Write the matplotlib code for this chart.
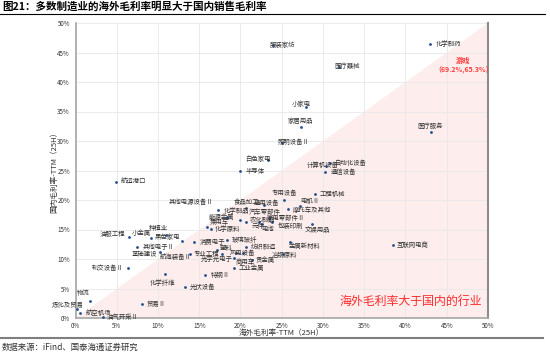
import numpy as np
import matplotlib
matplotlib.use('Agg')
import matplotlib.pyplot as plt
from matplotlib.lines import Line2D

plt.rcParams['font.family'] = ['Noto Sans CJK SC', 'DejaVu Sans']

# 数据：海外毛利率 / 国内毛利率 (%)
hangye = ['化学制药', '服装家纺', '医疗器械', '小家电', '家居用品', '照明设备Ⅱ', '医疗服务',
          '白色家电', '半导体', '计算机设备', '自动化设备', '通信设备', '航运港口', '专用设备',
          '工程机械', '电机Ⅱ', '摩托车及其他', '其他电源设备Ⅱ', '食品加工', '通用设备', '化学制品',
          '汽车零部件', '能源金属', '乘用车', '化学原料', '元件', '农化制品', '家电零部件Ⅱ', '电池',
          '包装印刷', '文娱用品', '油服工程', '小金属', '种植业', '黑色家电', '其他电子Ⅱ', '基础建设',
          '航海装备Ⅱ', '消费电子', '玻璃玻纤', '塑料', '专业工程', '风电设备', '光学光电子', '商用车',
          '贵金属', '工业金属', '纺织制造', '金属新材料', '冶钢原料', '特钢Ⅱ', '化学纤维', '光伏设备',
          '轨交设备Ⅱ', '贸易Ⅱ', '物流', '炼化及贸易', '航空机场', '油气开采Ⅱ', '互联网电商']
haiwai = [43.0, 23.9, 31.9, 27.9, 27.3, 25.0, 43.1,
          23.3, 20.0, 30.4, 30.9, 30.3, 4.9, 25.3,
          29.0, 27.2, 25.8, 17.3, 20.7, 22.9, 18.4,
          19.9, 16.0, 18.4, 16.4, 20.7, 22.3, 23.5, 22.6,
          23.8, 28.7, 6.5, 9.1, 11.0, 12.9, 7.5, 10.3,
          13.9, 14.4, 18.4, 17.1, 17.7, 19.5, 19.2, 20.3,
          21.4, 19.2, 20.7, 26.0, 25.1, 15.7, 10.9, 13.3,
          6.4, 8.0, 1.8, 0.2, 0.5, 3.3, 38.5]
guonei = [46.4, 46.2, 42.6, 35.7, 32.3, 29.7, 31.5,
          26.8, 25.0, 25.8, 26.3, 24.8, 23.0, 20.0,
          21.1, 18.9, 18.5, 18.3, 18.6, 19.2, 17.2,
          16.6, 15.4, 16.9, 15.1, 16.3, 16.3, 16.9, 15.9,
          16.2, 15.9, 13.8, 13.5, 14.1, 13.1, 12.0, 11.2,
          10.8, 12.8, 13.2, 11.6, 10.8, 11.1, 10.2, 11.1,
          9.8, 8.5, 12.0, 12.8, 10.8, 7.3, 7.4, 5.3,
          8.5, 2.4, 2.9, 1.6, 0.8, 0.1, 12.4]

# 标签位置（像素偏移，水平对齐）
biaoqian = [(5, 0, 'left'), (10, 0, 'center'), (8, 1, 'center'), (-4, 3, 'center'), (0, 6, 'center'),
            (12, 1, 'center'), (-1, 6, 'center'), (-10, 1, 'center'), (5, 0, 'left'), (-4, 1, 'center'),
            (5, 0, 'left'), (5, 0, 'left'), (5, 0, 'left'), (0, 7, 'center'), (5, 0, 'left'),
            (10, 6, 'center'), (4, -1, 'left'), (-27, 8, 'center'), (0, 6, 'center'), (2, 2, 'center'),
            (9, 6, 'center'), (25, 8, 'center'), (14, 10, 'center'), (-8, -4, 'center'), (4, 0, 'left'),
            (5, -4, 'left'), (3, 2, 'center'), (-3, 0, 'left'), (6, -5, 'center'), (6, -4, 'left'),
            (5, -6, 'center'), (-4, 3, 'right'), (0, 5, 'right'), (-8, 7, 'center'), (-2, 4, 'right'),
            (5, 0, 'left'), (-3, -1, 'right'), (1, -3, 'right'), (5, 0, 'left'), (4, 0, 'left'),
            (3, 2, 'left'), (-2, 0, 'right'), (6, 0, 'center'), (-1, -1, 'right'), (2, -9, 'center'),
            (4, 0, 'left'), (5, 0, 'left'), (4, 0, 'left'), (-1, -4, 'left'), (2, -1, 'center'),
            (6, 0, 'left'), (-3, -9, 'center'), (5, 0, 'left'), (-5, 0, 'right'), (5, 0, 'left'),
            (-7, 8, 'center'), (-9, 4, 'center'), (6, 0, 'left'), (4, 0, 'left'), (4, 0, 'left')]

fig = plt.figure(figsize=(5.5, 3.54), dpi=100)
ax = fig.add_axes([75.5/550, 1-318/354, (488-75.5)/550, (318-23)/354])

# 海外毛利率大于国内的区域
ax.fill([0, 50, 50], [0, 0, 50], color='#fdeded', lw=0, zorder=0)

ax.scatter(haiwai, guonei, s=4, color='#1f4e8c', zorder=3, lw=0)
for name, x, y, (dx, dy, ha) in zip(hangye, haiwai, guonei, biaoqian):
    ax.annotate(name, (x, y), xytext=(dx, dy), textcoords='offset pixels',
                ha=ha, va='center', fontsize=4.6, color='#333333', zorder=4)

# 游戏（超出坐标范围，仅标注）
ax.text(47.0, 43.6, '游戏', color='#ff3b3b', fontsize=5.2, fontweight='bold', ha='center', va='center')
ax.text(47.0, 42.0, '（69.2%,65.3%）', color='#ff3b3b', fontsize=5, fontweight='bold',
        ha='center', va='center')
ax.text(32.0, 2.9, '海外毛利率大于国内的行业', color='#ff2a2a', fontsize=8.6, ha='left', va='center')

ax.set_xlim(0, 50)
ax.set_ylim(0, 50)
ax.set_xticks(np.arange(0, 51, 5))
ax.set_yticks(np.arange(0, 51, 5))
ax.set_xticklabels([f'{v}%' for v in range(0, 51, 5)])
ax.set_yticklabels([f'{v}%' for v in range(0, 51, 5)])
ax.tick_params(length=0, labelsize=4.5, labelcolor='#333333')
ax.tick_params(axis='x', pad=3)
ax.tick_params(axis='y', pad=4)
ax.grid(color='#e8e8e8', lw=0.6)
ax.set_axisbelow(True)
for s in ['left', 'bottom']:
    ax.spines[s].set_color('#a6a6a6')
    ax.spines[s].set_linewidth(1.2)
ax.spines['right'].set_color('#8c8c8c')
ax.spines['right'].set_linewidth(1.5)
ax.spines['top'].set_visible(False)

ax.set_xlabel('海外毛利率-TTM（25H）', fontsize=5.5, color='#333333', labelpad=-1)
ax.set_ylabel('国内毛利率-TTM（25H）', fontsize=5.5, color='#333333', labelpad=-1)

fig.text(0.004, 1-7/354, '图21：多数制造业的海外毛利率明显大于国内销售毛利率', fontsize=7.6,
         fontweight='bold', va='center', ha='left')
fig.add_artist(Line2D([0, 545/550], [1-13.5/354]*2, color='black', lw=0.8))
fig.add_artist(Line2D([0, 543/550], [1-338/354]*2, color='#7f7f7f', lw=1.5))
fig.text(0.004, 1-347/354, '数据来源：iFind、国泰海通证券研究', fontsize=6, va='center', ha='left',
         color='#333333')

fig.savefig('out.png', dpi=100)
